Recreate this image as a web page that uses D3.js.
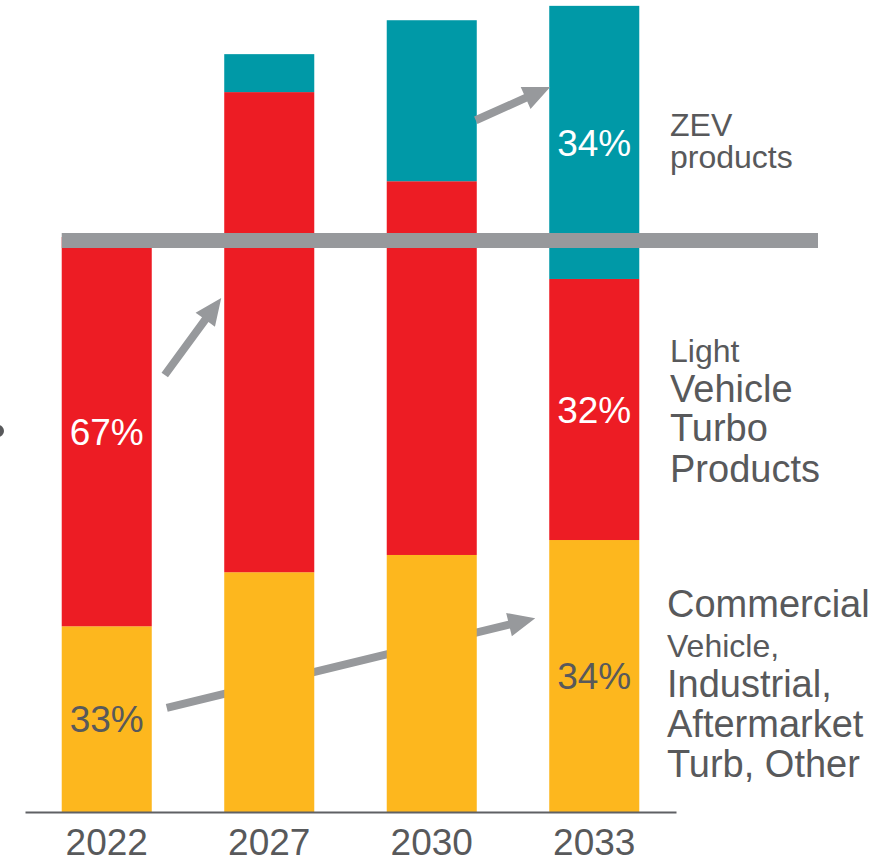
<!DOCTYPE html>
<html>
<head>
<meta charset="utf-8">
<script src="https://cdn.jsdelivr.net/npm/d3@7"></script>
<style>
  html, body { margin: 0; padding: 0; background: #fff; }
  svg { display: block; font-family: "Liberation Sans", Arial, sans-serif; }
</style>
</head>
<body>
<div class="d3"></div>
<script>
// years on the x axis
const years = ["2022", "2027", "2030", "2033"];

// segment values (index, 2022 total = 100)
const commercial = [32.3, 41.7, 44.7, 47.3];
const lightVehicle = [67.7, 83.5, 65.0, 45.4];
const zev = [0, 6.6, 28.0, 47.5];

// share labels shown in the bars
const shareLabels = [
    { year: "2022", series: "commercial", text: "33%" },
    { year: "2022", series: "lightVehicle", text: "67%" },
    { year: "2033", series: "commercial", text: "34%" },
    { year: "2033", series: "lightVehicle", text: "32%" },
    { year: "2033", series: "zev", text: "34%" }
];

// legend text on the right, one entry per line
const zevLines = ["ZEV", "products"];
const lightLines = ["Light", "Vehicle", "Turbo", "Products"];
const commercialLines = ["Commercial", "Vehicle,", "Industrial,", "Aftermarket", "Turb, Other"];

// growth arrows: from one bar to another, at a value level
const arrows = [
    { from: "2022", fromVal: 76.0, to: "2027", toVal: 89.4 },
    { from: "2030", fromVal: 120.3, to: "2033", toVal: 126.1 },
    { from: "2022", fromVal: 18.1, to: "2033", toVal: 33.7 }
];

// level of the horizontal reference bar
const referenceLevel = 99.4;

const width = 877, height = 861;
const colors = { commercial: "#FDB71E", lightVehicle: "#ED1C24", zev: "#0099A7" };
const textGray = "#58595B";
const arrowGray = "#97999C";

const svg = d3.select("div.d3").append("svg")
    .attr("width", width)
    .attr("height", height);

const x = d3.scaleBand()
    .domain(years)
    .range([25, 676])
    .paddingInner(0.446)
    .paddingOuter(0.226);

const y = d3.scaleLinear()
    .domain([0, 100])
    .range([812, 237]);

// stack the three series
const rows = years.map((yr, i) => ({
    year: yr,
    commercial: commercial[i],
    lightVehicle: lightVehicle[i],
    zev: zev[i]
}));
const keys = ["commercial", "lightVehicle", "zev"];
const stacked = d3.stack().keys(keys)(rows);

// arrow along the yellow segment sits behind the bars
const arrowLayer = svg.append("g");
const barLayer = svg.append("g");
const overLayer = svg.append("g");

function arrowPath(x1, y1, x2, y2) {
    const dx = x2 - x1, dy = y2 - y1;
    const len = Math.sqrt(dx * dx + dy * dy);
    const ux = dx / len, uy = dy / len;
    const nx = -uy, ny = ux;
    const headLen = 27, headHalf = 12, shaftHalf = 4;
    const bx = x2 - ux * headLen, by = y2 - uy * headLen;
    const pts = [
        [x1 + nx * shaftHalf, y1 + ny * shaftHalf],
        [bx + nx * shaftHalf, by + ny * shaftHalf],
        [bx + nx * headHalf, by + ny * headHalf],
        [x2, y2],
        [bx - nx * headHalf, by - ny * headHalf],
        [bx - nx * shaftHalf, by - ny * shaftHalf],
        [x1 - nx * shaftHalf, y1 - ny * shaftHalf]
    ];
    return "M" + pts.map(p => p.join(",")).join("L") + "Z";
}

const arrowOffsets = [[13, -3], [-1, 1], [15, -14]];
arrows.forEach((a, i) => {
    const x1 = x(a.from) + x.bandwidth() + arrowOffsets[i][0];
    const x2 = x(a.to) + arrowOffsets[i][1];
    const layer = i === 2 ? arrowLayer : overLayer;
    layer.append("path")
        .attr("d", arrowPath(x1, y(a.fromVal), x2, y(a.toVal)))
        .attr("fill", arrowGray);
});

barLayer.selectAll("g.series")
    .data(stacked)
    .enter()
    .append("g")
    .attr("class", "series")
    .attr("fill", d => colors[d.key])
    .selectAll("rect")
    .data(d => d.filter(s => s[1] - s[0] > 0))
    .enter()
    .append("rect")
    .attr("x", d => x(d.data.year))
    .attr("y", d => y(d[1]))
    .attr("width", x.bandwidth())
    .attr("height", d => y(d[0]) - y(d[1]));

// x axis
const axis = svg.append("g")
    .attr("transform", "translate(0,812)")
    .call(d3.axisBottom(x).tickSize(0).tickSizeOuter(0).tickPadding(17));
axis.select(".domain").attr("stroke", "#5F6064").attr("stroke-width", 2);
axis.selectAll("text")
    .attr("font-size", 37)
    .attr("font-family", "Liberation Sans, Arial, sans-serif")
    .attr("fill", textGray)
    .attr("dy", "0.71em");

// horizontal reference bar over the columns
overLayer.append("line")
    .attr("x1", x(years[0]))
    .attr("x2", 818)
    .attr("y1", y(referenceLevel))
    .attr("y2", y(referenceLevel))
    .attr("stroke", arrowGray)
    .attr("stroke-width", 15);

// share labels centred in their segments
const seriesIndex = { commercial: 0, lightVehicle: 1, zev: 2 };
overLayer.selectAll("text.share")
    .data(shareLabels)
    .enter()
    .append("text")
    .attr("class", "share")
    .attr("x", d => x(d.year) + x.bandwidth() / 2)
    .attr("y", d => {
        const seg = stacked[seriesIndex[d.series]][years.indexOf(d.year)];
        return y((seg[0] + seg[1]) / 2);
    })
    .attr("dy", "0.36em")
    .attr("text-anchor", "middle")
    .attr("font-size", 37)
    .attr("fill", d => d.series === "commercial" ? textGray : "#fff")
    .text(d => d.text);

// right-hand legend text
function legendBlock(lines, x0, baselines, sizes) {
    const t = svg.append("text").attr("fill", textGray);
    lines.forEach((s, i) => {
        t.append("tspan")
            .attr("x", x0)
            .attr("y", baselines[i])
            .attr("font-size", sizes[i])
            .text(s);
    });
}
legendBlock(zevLines, 670, [136, 168], [32, 32]);
legendBlock(lightLines, 670, [362, 402, 441, 482], [32, 38, 38, 38]);
legendBlock(commercialLines, 667, [617, 657, 697, 737, 777], [38, 32, 38, 38, 38]);

// clipped glyph at the left edge
svg.append("circle")
    .attr("cx", -2)
    .attr("cy", 431)
    .attr("r", 6)
    .attr("fill", textGray);
</script>
</body>
</html>
